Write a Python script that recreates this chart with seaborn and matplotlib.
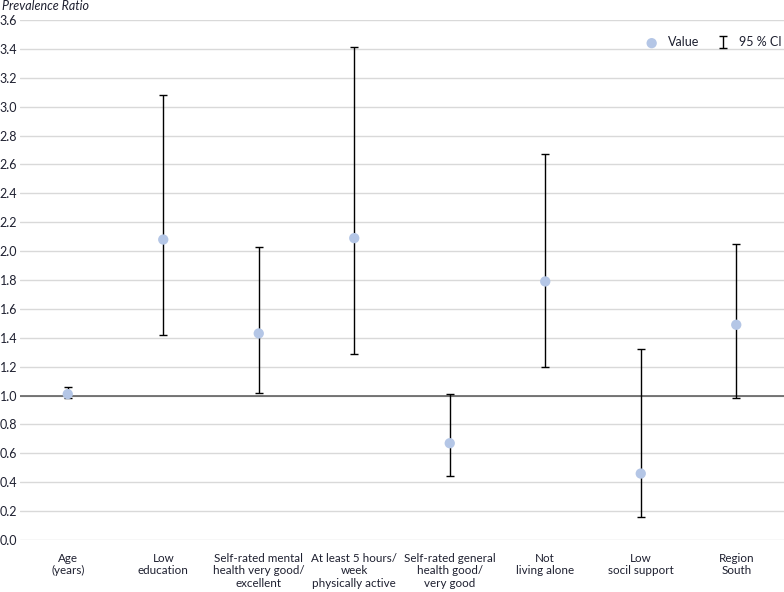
import matplotlib
matplotlib.use("Agg")
import matplotlib.pyplot as plt
import seaborn as sns
import pandas as pd

categories = [
    "Age\n(years)",
    "Low\neducation",
    "Self-rated mental\nhealth very good/\nexcellent",
    "At least 5 hours/\nweek\nphysically active",
    "Self-rated general\nhealth good/\nvery good",
    "Not\nliving alone",
    "Low\nsocil support",
    "Region\nSouth",
]
values = [1.01, 2.08, 1.43, 2.09, 0.67, 1.79, 0.46, 1.49]
ci_low = [0.98, 1.42, 1.02, 1.29, 0.44, 1.20, 0.16, 0.98]
ci_high = [1.06, 3.08, 2.03, 3.41, 1.01, 2.67, 1.32, 2.05]
yticks = [0.0, 0.2, 0.4, 0.6, 0.8, 1.0, 1.2, 1.4, 1.6, 1.8, 2.0, 2.2, 2.4, 2.6, 2.8, 3.0, 3.2, 3.4, 3.6]

df = pd.DataFrame({"category": categories, "value": values, "low": ci_low, "high": ci_high})

sns.set_theme(style="white")
plt.rcParams["font.family"] = ["Lato", "DejaVu Sans"]
text_col = "#1e2030"

fig = plt.figure(figsize=(7.84, 5.92), dpi=100)
ax = fig.add_axes([20 / 784, 1 - 540 / 592, 764 / 784, 520 / 592])

ax.errorbar(df["category"], df["value"],
            yerr=[df["value"] - df["low"], df["high"] - df["value"]],
            fmt="none", ecolor="black", elinewidth=1.0, capsize=3.2, capthick=1.0,
            label="95 % CI", zorder=3)
sns.scatterplot(data=df, x="category", y="value", ax=ax, color="#b4c6e6",
                s=55, edgecolor="none", label="Value", zorder=4)

ax.set_ylim(0, 3.6)
ax.set_xlim(-0.5, len(categories) - 0.5)
ax.set_yticks(yticks)
ax.set_yticklabels([f"{t:.1f}" for t in yticks])
for t in yticks:
    ax.axhline(t, color="#d9d9d9", lw=1, zorder=0)
ax.axhline(1.0, color="#555555", lw=1.1, zorder=1)

for s in ax.spines.values():
    s.set_visible(False)
ax.tick_params(axis="both", length=0, labelsize=9, colors=text_col)
ax.tick_params(axis="x", labelsize=8.4, pad=9)
ax.tick_params(axis="y", pad=2)
ax.set_xlabel("")
ax.set_ylabel("")
fig.text(0.002, 1 - 6 / 592, "Prevalence Ratio", style="italic", fontsize=9,
         color=text_col, ha="left", va="center")

h, l = ax.get_legend_handles_labels()
order = [l.index("Value"), l.index("95 % CI")]
ax.legend([h[i] for i in order], [l[i] for i in order], loc="upper right",
          ncol=2, frameon=False, fontsize=9, handlelength=1.0, columnspacing=1.4,
          handletextpad=0.8, bbox_to_anchor=(1.012, 0.99), labelcolor=text_col)

fig.savefig("out.png", dpi=100)
